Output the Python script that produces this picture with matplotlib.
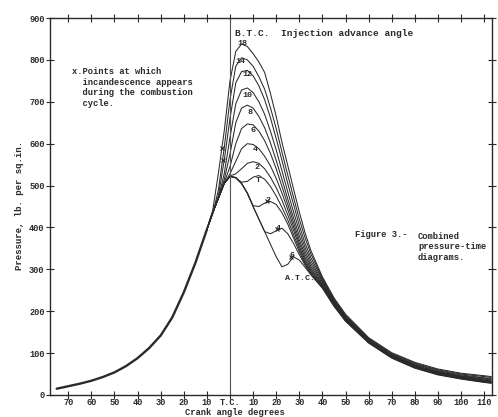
import matplotlib
matplotlib.use("Agg")
import matplotlib.pyplot as plt

# shared compression stroke (crank deg, psi)
comp_ang = [-75, -70, -65, -60, -55, -50, -45, -40, -35, -30, -25, -20, -15, -10]
comp_p = [15, 21, 27, 34, 43, 54, 69, 88, 112, 142, 185, 245, 315, 395]

# individual curves from -10 deg on
ang = [-10, -7.5, -5, -2.5, 0, 2.5, 5, 7.5, 10, 12.5, 15, 17.5, 20, 22.5, 25, 27.5,
       30, 32.5, 35, 40, 45, 50, 60, 70, 80, 90, 100, 110, 113]

p_18 = [398, 440, 530, 630, 750, 820, 838, 832, 815, 795, 770, 720, 665, 603, 548, 492,
        437, 387, 345, 282, 232, 193, 137, 101, 78, 62, 52, 46, 44]
p_14 = [396, 432, 490, 590, 705, 785, 805, 800, 785, 760, 730, 686, 636, 580, 525, 472,
        420, 375, 337, 279, 229, 190, 135, 99, 76, 60, 50, 44, 42]
p_12 = [395, 433, 476, 560, 660, 745, 772, 775, 762, 738, 705, 662, 612, 560, 505, 455,
        405, 362, 328, 276, 227, 188, 133, 97, 74, 58, 48, 41, 39]
p_10 = [395, 435, 472, 528, 615, 695, 728, 733, 722, 700, 670, 630, 585, 535, 485, 437,
        392, 352, 320, 273, 225, 186, 132, 96, 72, 56, 46, 40, 38]
p_8 = [395, 435, 470, 514, 575, 650, 685, 692, 685, 665, 638, 602, 560, 515, 468, 423,
       380, 343, 313, 270, 223, 185, 131, 95, 71, 55, 45, 38, 36]
p_6 = [395, 435, 470, 507, 545, 600, 636, 647, 645, 630, 607, 577, 540, 498, 455, 412,
       370, 335, 307, 267, 221, 183, 130, 94, 70, 54, 44, 36, 34]
p_4 = [395, 435, 470, 505, 528, 558, 588, 600, 598, 588, 570, 547, 517, 482, 443, 402,
       362, 328, 302, 264, 219, 182, 129, 93, 69, 53, 43, 35, 33]
p_2 = [395, 435, 470, 505, 523, 528, 540, 553, 557, 553, 540, 520, 495, 465, 430, 393,
       355, 322, 298, 262, 217, 180, 128, 92, 68, 52, 42, 34, 32]
p_tc = [395, 435, 470, 505, 522, 518, 508, 510, 520, 524, 515, 498, 475, 448, 418, 383,
        348, 317, 294, 260, 216, 179, 127, 91, 67, 51, 41, 33, 31]
p_a2 = [395, 435, 470, 505, 522, 519, 505, 482, 452, 450, 458, 462, 455, 435, 408, 375,
        342, 313, 291, 258, 214, 178, 126, 90, 66, 50, 40, 32, 30]
p_a4 = [395, 435, 470, 505, 522, 519, 505, 482, 450, 420, 390, 385, 392, 398, 385, 362,
        335, 310, 288, 256, 213, 177, 125, 89, 65, 49, 39, 31, 29]
p_a6 = [395, 435, 470, 505, 522, 519, 505, 482, 450, 420, 390, 360, 330, 306, 312, 330,
        322, 305, 287, 255, 212, 176, 124, 88, 64, 48, 38, 30, 28]

curves = [p_18, p_14, p_12, p_10, p_8, p_6, p_4, p_2, p_tc, p_a2, p_a4, p_a6]
curve_labels = ["18", "14", "12", "10", "8", "6", "4", "2", "T", "2", "4", "6"]
label_ang = [5.2, 4.3, 7.4, 7.4, 8.7, 10.0, 10.8, 11.7, 12.1, 16.5, 20.8, 26.8]
label_p = [838, 797, 764, 716, 675, 632, 585, 544, 513, 465, 398, 334]

# incandescence points
inc_ang = [-3.5, -3.0, 16.0, 20.5, 26.5]
inc_p = [590, 562, 462, 396, 330]

xticks = [-70, -60, -50, -40, -30, -20, -10, 0, 10, 20, 30, 40, 50, 60, 70, 80, 90, 100, 110]
xticklabels = ["70", "60", "50", "40", "30", "20", "10", "T.C.", "10", "20", "30", "40",
               "50", "60", "70", "80", "90", "100", "110"]
yticks = [0, 100, 200, 300, 400, 500, 600, 700, 800, 900]

ink = "#2a2a2a"
mono = "Liberation Mono"

fig = plt.figure(figsize=(4.98, 4.17), dpi=100)
ax = fig.add_axes([50/498, 1-395/417, 442/498, 377/417])

ax.plot(comp_ang, comp_p, color=ink, lw=1.7, solid_capstyle="round")
for p in curves:
    ax.plot(ang, p, color=ink, lw=0.75)
ax.plot(inc_ang, inc_p, "x", color=ink, ms=3, mew=0.8)

ax.axvline(0, color="#555555", lw=0.8)

for t, a, p in zip(curve_labels, label_ang, label_p):
    ax.text(a, p, t, family=mono, fontsize=6, weight="bold", color=ink,
            ha="center", va="center")
ax.text(30.3, 279, "A.T.C.", family=mono, fontsize=6, weight="bold", color=ink,
        ha="center", va="center")
ax.text(2.2, 864, "B.T.C.  Injection advance angle", family=mono, fontsize=6.8,
        weight="bold", color=ink, ha="left", va="center")
ax.text(-68.4, 782, "x.Points at which\n  incandescence appears\n  during the combustion\n  cycle.",
        family=mono, fontsize=6.3, weight="bold", color=ink, ha="left", va="top",
        linespacing=1.2)
ax.text(54.1, 382, "Figure 3.-", family=mono, fontsize=6.3, weight="bold", color=ink,
        ha="left", va="center")
ax.text(81.4, 389, "Combined\npressure-time\ndiagrams.", family=mono, fontsize=6.3,
        weight="bold", color=ink, ha="left", va="top", linespacing=1.2)

ax.set_xlim(-77.9, 113.4)
ax.set_ylim(0, 900)
ax.set_xticks(xticks)
ax.set_xticklabels(xticklabels)
ax.set_yticks(yticks)
ax.tick_params(direction="inout", length=6, width=0.8, color=ink, labelsize=6.2,
               labelcolor=ink, top=True, right=True, pad=1)
ax.tick_params(axis="x", pad=-1)
for lab in ax.get_xticklabels() + ax.get_yticklabels():
    lab.set_family(mono)
    lab.set_weight("bold")
for s in ax.spines.values():
    s.set_color(ink)
    s.set_linewidth(1.0)

fig.text(20/498, 1-205/417, "Pressure, lb. per sq.in.", family=mono, fontsize=6.5,
         weight="bold", color=ink, rotation=90, ha="center", va="center")
fig.text(235/498, 1-412.5/417, "Crank angle degrees", family=mono, fontsize=6.3,
         weight="bold", color=ink, ha="center", va="center")

fig.savefig("out.png", dpi=100)
